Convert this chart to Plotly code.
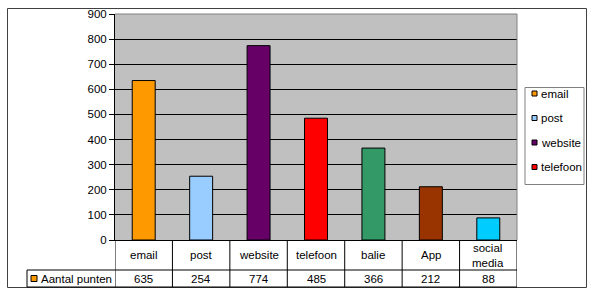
import plotly.graph_objects as go

categories = ["email", "post", "website", "telefoon", "balie", "App", "social media"]
table_labels = ["email", "post", "website", "telefoon", "balie", "App", "social<br>media"]
values = [635, 254, 774, 485, 366, 212, 88]
colors = ["#FF9900", "#99CCFF", "#660066", "#FF0000", "#339966", "#993300", "#00CCFF"]
series_name = "Aantal punten"
legend_count = 4  # the reference legend only lists the first four categories
y_ticks = [0, 100, 200, 300, 400, 500, 600, 700, 800, 900]

W, H = 595, 297
L, R, T, B = 115, 517, 14, 240
pw, ph = R - L, B - T

def px_x(x):
    return (x - L) / pw

def px_y(y):
    return (B - y) / ph

FONT = "Liberation Sans, Arial, sans-serif"

fig = go.Figure()
for i, (c, v, col) in enumerate(zip(categories, values, colors)):
    fig.add_trace(go.Bar(
        x=[i], y=[v], name=c, width=0.4,
        marker=dict(color=col, line=dict(color="black", width=1)),
        showlegend=False, hoverinfo="y",
    ))

shapes = []
annotations = []
line_k = dict(color="black", width=1)

# outer chart border
shapes.append(dict(type="rect", xref="paper", yref="paper",
                   x0=px_x(7.5), x1=px_x(586.5), y0=px_y(287.5), y1=px_y(8.5),
                   line=dict(color="#404040", width=1), layer="below"))

# data table: vertical lines at category boundaries
n = len(categories)
for k in range(n + 1):
    shapes.append(dict(type="line", xref="x", yref="paper",
                       x0=k - 0.5, x1=k - 0.5, y0=0, y1=px_y(287),
                       line=line_k))
shapes.append(dict(type="line", xref="paper", yref="paper",
                   x0=px_x(27), x1=1, y0=px_y(270), y1=px_y(270), line=line_k))
shapes.append(dict(type="line", xref="paper", yref="paper",
                   x0=px_x(27), x1=1, y0=px_y(287), y1=px_y(287), line=line_k))
shapes.append(dict(type="line", xref="paper", yref="paper",
                   x0=px_x(27), x1=px_x(27), y0=px_y(270), y1=px_y(287), line=line_k))
shapes.append(dict(type="rect", xref="paper", yref="paper",
                   x0=px_x(31), x1=px_x(37), y0=px_y(281.5), y1=px_y(275.5),
                   fillcolor=colors[0], line=dict(color="black", width=1)))
annotations.append(dict(xref="paper", yref="paper", x=px_x(38.5), y=px_y(278.5),
                        text=series_name, showarrow=False, xanchor="left",
                        yanchor="middle", font=dict(size=11.5, color="black", family=FONT)))

for i, (lab, v) in enumerate(zip(table_labels, values)):
    annotations.append(dict(xref="x", yref="paper", x=i, y=px_y(255),
                            text=lab, showarrow=False, yanchor="middle",
                            font=dict(size=11.5, color="black", family=FONT)))
    annotations.append(dict(xref="x", yref="paper", x=i, y=px_y(278.5),
                            text=str(v), showarrow=False, yanchor="middle",
                            font=dict(size=11.5, color="black", family=FONT)))

# plot area top/right border in gray
shapes.append(dict(type="line", xref="paper", yref="paper", x0=0, x1=1, y0=1, y1=1,
                   line=dict(color="#808080", width=1)))
shapes.append(dict(type="line", xref="paper", yref="paper", x0=1, x1=1, y0=0, y1=1,
                   line=dict(color="#808080", width=1)))

# legend box (drawn manually to match the compact Excel legend)
shapes.append(dict(type="rect", xref="paper", yref="paper",
                   x0=px_x(525), x1=px_x(584), y0=px_y(184.5), y1=px_y(87.5),
                   fillcolor="white", line=dict(color="#808080", width=1)))
leg_y0, leg_dy = 93.5, 24.5
for j in range(legend_count):
    yc = leg_y0 + j * leg_dy
    shapes.append(dict(type="rect", xref="paper", yref="paper",
                       x0=px_x(532), x1=px_x(537), y0=px_y(yc + 2.5), y1=px_y(yc - 2.5),
                       fillcolor=colors[j], line=dict(color="black", width=1)))
    annotations.append(dict(xref="paper", yref="paper", x=px_x(538.5), y=px_y(yc),
                            text=categories[j], showarrow=False, xanchor="left",
                            yanchor="middle", font=dict(size=11.5, color="black", family=FONT)))

fig.update_layout(
    width=W, height=H,
    margin=dict(l=L, r=W - R, t=T, b=H - B, autoexpand=False),
    paper_bgcolor="white",
    plot_bgcolor="#C0C0C0",
    font=dict(family=FONT, size=11, color="black"),
    barmode="overlay",
    xaxis=dict(range=[-0.5, n - 0.5], showticklabels=False, showgrid=False,
               zeroline=False, showline=True, linecolor="black", linewidth=1,
               ticks="", fixedrange=True),
    yaxis=dict(range=[0, 900], tickvals=y_ticks, showgrid=True, gridcolor="black",
               gridwidth=1, zeroline=False, showline=True, linecolor="black",
               linewidth=1, ticks="outside", ticklen=5, tickcolor="black",
               tickfont=dict(size=11.5, color="black", family=FONT), fixedrange=True),
    showlegend=False,
    shapes=shapes,
    annotations=annotations,
)

fig.write_html("out.html")
